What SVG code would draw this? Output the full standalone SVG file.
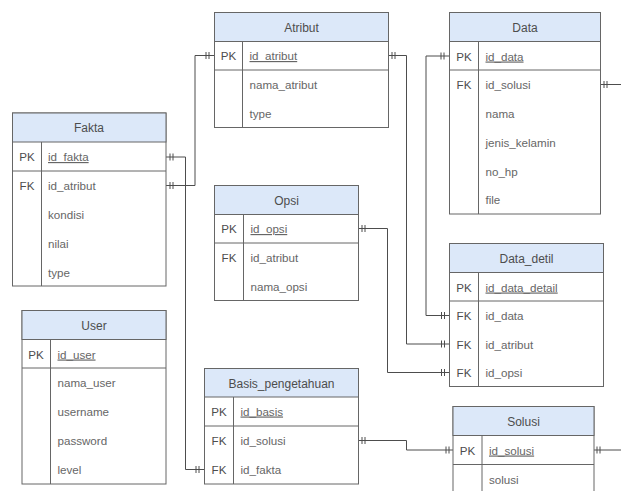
<svg xmlns="http://www.w3.org/2000/svg" width="621" height="491" viewBox="0 0 621 491">
<style>
.box{fill:#fff;stroke:#666;stroke-width:1}
.hd{fill:#dce8f9;stroke:#666;stroke-width:1}
.ln{stroke:#666;stroke-width:1;fill:none}
.t{font-family:"Liberation Sans",Arial,sans-serif;font-size:11.6px;fill:#666}
.h{font-family:"Liberation Sans",Arial,sans-serif;font-size:12px;fill:#4d4d4d;text-anchor:middle}
.k{font-family:"Liberation Sans",Arial,sans-serif;font-size:11.6px;fill:#4d4d4d;text-anchor:middle}
.u{text-decoration:underline}
.c{stroke:#4d4d4d;stroke-width:1;fill:none}
</style>
<rect x="0" y="0" width="621" height="491" fill="#fff"/>

<g id="connectors">
<path class="c" d="M166,157 H185.5 V469.5 H204.5"/>
<path class="c" d="M170,153.5 V160.5 M173,153.5 V160.5 M196,466 V473 M199,466 V473"/>
<path class="c" d="M166,185.5 H195 V55.5 H214.5"/>
<path class="c" d="M170,182 V189 M173,182 V189 M206,52 V59 M209,52 V59"/>
<path class="c" d="M388.5,55.5 H406.5 V344 H449.5"/>
<path class="c" d="M392,52 V59 M395,52 V59 M441.5,340.5 V347.5 M444.5,340.5 V347.5"/>
<path class="c" d="M449.5,56 H426 V315.5 H449.5"/>
<path class="c" d="M441,52.5 V59.5 M444,52.5 V59.5 M441.5,312 V319 M444.5,312 V319"/>
<path class="c" d="M600.5,84.5 H621"/>
<path class="c" d="M604,81 V88 M607,81 V88"/>
<path class="c" d="M358.5,228.5 H387.5 V372.5 H449.5"/>
<path class="c" d="M362,225 V232 M365,225 V232 M441.5,369 V376 M444.5,369 V376"/>
<path class="c" d="M358.5,440.5 H406.5 V450 H453"/>
<path class="c" d="M362,437 V444 M365,437 V444 M446,446.5 V453.5 M449,446.5 V453.5"/>
<path class="c" d="M594,450 H621"/>
<path class="c" d="M597,446.5 V453.5 M600,446.5 V453.5"/>
</g>

<g id="Fakta">
<rect class="box" x="12.5" y="113" width="153.5" height="173"/>
<rect class="hd" x="12.5" y="113" width="153.5" height="29"/>
<path class="ln" d="M12.5,171 H166 M41.5,142 V286"/>
<text class="h" x="89" y="132">Fakta</text>
<text class="k" x="27" y="161">PK</text>
<text class="t u" x="48" y="161">id_fakta</text>
<text class="k" x="27" y="190">FK</text>
<text class="t" x="48" y="190">id_atribut</text>
<text class="t" x="48" y="219">kondisi</text>
<text class="t" x="48" y="247.5">nilai</text>
<text class="t" x="48" y="276.5">type</text>
</g>

<g id="Atribut">
<rect class="box" x="214.5" y="12.5" width="174" height="115"/>
<rect class="hd" x="214.5" y="12.5" width="174" height="29"/>
<path class="ln" d="M214.5,70 H388.5 M242.5,41.5 V127.5"/>
<text class="h" x="301.5" y="31.5">Atribut</text>
<text class="k" x="228.5" y="60">PK</text>
<text class="t u" x="249.5" y="60">id_atribut</text>
<text class="t" x="249.5" y="89">nama_atribut</text>
<text class="t" x="249.5" y="117.5">type</text>
</g>

<g id="Data">
<rect class="box" x="449.5" y="12.5" width="151" height="201.5"/>
<rect class="hd" x="449.5" y="12.5" width="151" height="29"/>
<path class="ln" d="M449.5,70 H600.5 M478.5,41.5 V214"/>
<text class="h" x="525" y="31.5">Data</text>
<text class="k" x="464" y="60.5">PK</text>
<text class="t u" x="485.5" y="60.5">id_data</text>
<text class="k" x="464" y="89">FK</text>
<text class="t" x="485.5" y="89">id_solusi</text>
<text class="t" x="485.5" y="117.5">nama</text>
<text class="t" x="485.5" y="146.5">jenis_kelamin</text>
<text class="t" x="485.5" y="175.5">no_hp</text>
<text class="t" x="485.5" y="204">file</text>
</g>

<g id="Opsi">
<rect class="box" x="214.5" y="185.5" width="144" height="115"/>
<rect class="hd" x="214.5" y="185.5" width="144" height="29"/>
<path class="ln" d="M214.5,243 H358.5 M243.5,214.5 V300.5"/>
<text class="h" x="286.5" y="204.5">Opsi</text>
<text class="k" x="229" y="233">PK</text>
<text class="t u" x="250.5" y="233">id_opsi</text>
<text class="k" x="229" y="262">FK</text>
<text class="t" x="250.5" y="262">id_atribut</text>
<text class="t" x="250.5" y="290.5">nama_opsi</text>
</g>

<g id="Data_detil">
<rect class="box" x="449.5" y="243.5" width="154" height="143"/>
<rect class="hd" x="449.5" y="243.5" width="154" height="29"/>
<path class="ln" d="M449.5,301 H603.5 M478.5,272.5 V386.5"/>
<text class="h" x="526.5" y="262.5">Data_detil</text>
<text class="k" x="464" y="291.5">PK</text>
<text class="t u" x="485.5" y="291.5">id_data_detail</text>
<text class="k" x="464" y="320">FK</text>
<text class="t" x="485.5" y="320">id_data</text>
<text class="k" x="464" y="348.5">FK</text>
<text class="t" x="485.5" y="348.5">id_atribut</text>
<text class="k" x="464" y="377">FK</text>
<text class="t" x="485.5" y="377">id_opsi</text>
</g>

<g id="User">
<rect class="box" x="22" y="310.5" width="144" height="173.5"/>
<rect class="hd" x="22" y="310.5" width="144" height="29"/>
<path class="ln" d="M22,368 H166 M50.5,339.5 V484"/>
<text class="h" x="94" y="329.5">User</text>
<text class="k" x="36" y="358.5">PK</text>
<text class="t u" x="57.5" y="358.5">id_user</text>
<text class="t" x="57.5" y="387">nama_user</text>
<text class="t" x="57.5" y="416">username</text>
<text class="t" x="57.5" y="445">password</text>
<text class="t" x="57.5" y="474">level</text>
</g>

<g id="Basis_pengetahuan">
<rect class="box" x="204.5" y="368.5" width="154" height="115.5"/>
<rect class="hd" x="204.5" y="368.5" width="154" height="28.5"/>
<path class="ln" d="M204.5,426 H358.5 M233.5,397 V484"/>
<text class="h" x="281.5" y="387.5">Basis_pengetahuan</text>
<text class="k" x="219" y="415.5">PK</text>
<text class="t u" x="240.5" y="415.5">id_basis</text>
<text class="k" x="219" y="445">FK</text>
<text class="t" x="240.5" y="445">id_solusi</text>
<text class="k" x="219" y="474">FK</text>
<text class="t" x="240.5" y="474">id_fakta</text>
</g>

<g id="Solusi">
<rect class="box" x="453" y="406.5" width="141" height="90"/>
<rect class="hd" x="453" y="406.5" width="141" height="29"/>
<path class="ln" d="M453,464.5 H594 M482,435.5 V496"/>
<text class="h" x="523.5" y="426">Solusi</text>
<text class="k" x="467.5" y="454.5">PK</text>
<text class="t u" x="489" y="454.5">id_solusi</text>
<text class="t" x="489" y="483.5">solusi</text>
</g>
</svg>
